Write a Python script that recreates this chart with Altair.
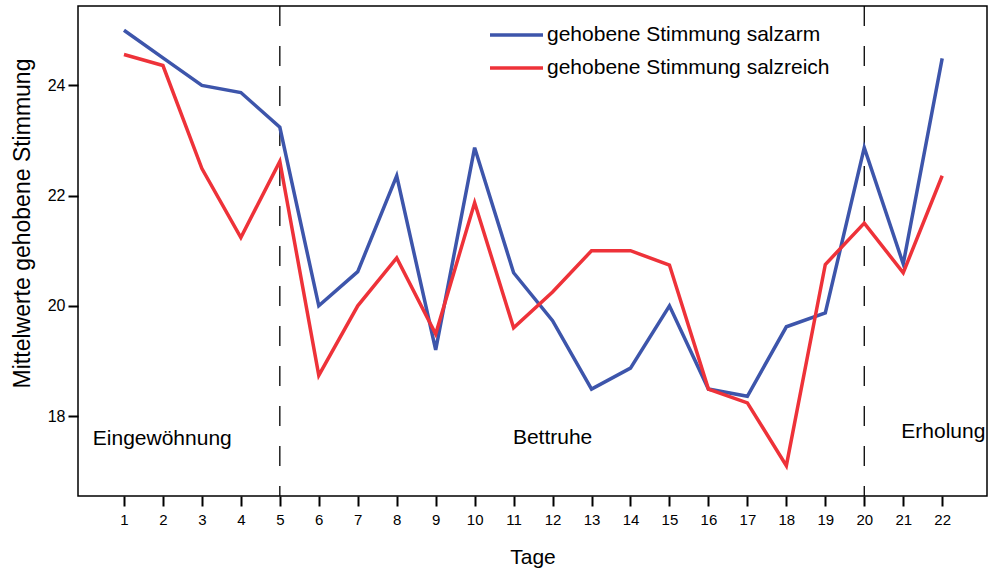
import altair as alt
import pandas as pd

days = list(range(1, 23))
salzarm = [25.0, 24.5, 24.0, 23.87, 23.24, 20.0, 20.62, 22.36, 19.2, 22.87, 20.6,
           19.73, 18.49, 18.87, 20.0, 18.49, 18.36, 19.62, 19.87, 22.87, 20.76, 24.49]
salzreich = [24.56, 24.36, 22.49, 21.24, 22.62, 18.74, 20.0, 20.87, 19.49, 21.87, 19.6,
             20.25, 21.0, 21.0, 20.74, 18.49, 18.24, 17.1, 20.75, 21.5, 20.6, 22.36]
series_names = ["gehobene Stimmung salzarm", "gehobene Stimmung salzreich"]
series_colors = ["#3d55ab", "#ee3239"]

phase_bounds = [5, 20]
phase_labels = ["Eingewöhnung", "Bettruhe", "Erholung"]
phase_label_x = [0.2, 12.0, 20.95]
phase_label_y = [17.58, 17.6, 17.71]
phase_label_align = ["left", "center", "left"]

FONT = "Liberation Sans"
BIG = 21

rows = []
for d, a, r in zip(days, salzarm, salzreich):
    rows.append({"Tag": d, "Wert": a, "Serie": series_names[0]})
    rows.append({"Tag": d, "Wert": r, "Serie": series_names[1]})
df = pd.DataFrame(rows)

xscale = alt.Scale(domain=[-0.18, 23.15], nice=False, zero=False)
yscale = alt.Scale(domain=[16.55, 25.44], nice=False, zero=False)
cscale = alt.Scale(domain=series_names, range=series_colors)

lines = alt.Chart(df).mark_line(strokeWidth=3.5, strokeJoin="miter").encode(
    x=alt.X("Tag:Q", scale=xscale,
            axis=alt.Axis(values=days, title="Tage", tickSize=10, tickWidth=2,
                          tickColor="black", labelFontSize=15, labelPadding=6,
                          labelFont=FONT, labelColor="black", domain=False, grid=False,
                          format="d",
                          titleFont=FONT, titleFontSize=BIG, titleFontWeight="normal",
                          titleColor="black", titleY=61, titleBaseline="middle")),
    y=alt.Y("Wert:Q", scale=yscale,
            axis=alt.Axis(values=[18, 20, 22, 24], title="Mittelwerte gehobene Stimmung",
                          tickSize=10, tickWidth=2, tickColor="black", labelFontSize=16,
                          labelPadding=3, labelFont=FONT, labelColor="black", domain=False,
                          grid=False, format="d", titleFont=FONT, titleFontSize=23,
                          titleFontWeight="normal", titleColor="black",
                          titleX=-56, titleY=217, titleAngle=270, titleBaseline="middle",
                          titleAlign="center")),
    color=alt.Color("Serie:N", scale=cscale, legend=None),
)

# legend drawn as layers (one row per series)
legend_row_y = [29, 62]
legend_layers = []
for name, ly in zip(series_names, legend_row_y):
    ldf = pd.DataFrame({"Serie": [name]})
    legend_layers.append(alt.Chart(ldf).mark_rule(strokeWidth=3.5).encode(
        x=alt.value(412), x2=alt.value(465), y=alt.value(ly),
        color=alt.Color("Serie:N", scale=cscale, legend=None)))
    legend_layers.append(alt.Chart(ldf).mark_text(
        font=FONT, fontSize=BIG, color="black", align="left", baseline="middle").encode(
        x=alt.value(469), y=alt.value(ly), text="Serie:N"))

vdf = pd.DataFrame({"Tag": phase_bounds})
vlines = alt.Chart(vdf).mark_rule(color="black", strokeWidth=1.3, strokeDash=[20, 20]).encode(
    x=alt.X("Tag:Q", scale=xscale),
    y=alt.value(0),
    y2=alt.value(490),
)

tdf = pd.DataFrame({"x": phase_label_x, "y": phase_label_y, "t": phase_labels,
                    "a": phase_label_align})
texts = []
for al in ["left", "center"]:
    texts.append(alt.Chart(tdf[tdf["a"] == al]).mark_text(
        font=FONT, fontSize=BIG, color="black", align=al, baseline="middle").encode(
        x=alt.X("x:Q", scale=xscale), y=alt.Y("y:Q", scale=yscale), text="t:N"))

chart = alt.layer(vlines, lines, *texts, *legend_layers).properties(
    width=909, height=490,
    autosize=alt.AutoSizeParams(type="none"),
    padding={"left": 78, "top": 6, "right": 2, "bottom": 73},
).configure(background="white").configure_view(stroke="black", strokeWidth=1.5)

chart.save("out.html", embed_options={"renderer": "svg", "actions": False})
